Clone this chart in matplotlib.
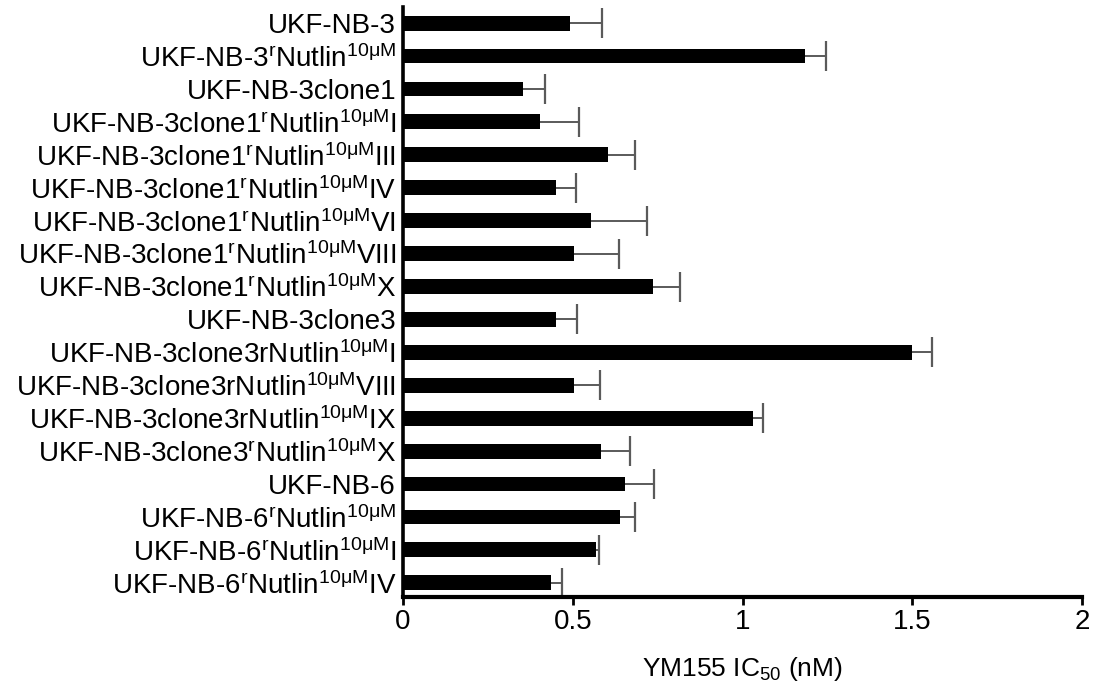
import matplotlib
matplotlib.use("Agg")
import matplotlib.pyplot as plt
import numpy as np

plt.rcParams["font.family"] = ["Liberation Sans", "DejaVu Sans"]
plt.rcParams["mathtext.fontset"] = "custom"
plt.rcParams["mathtext.rm"] = "Liberation Sans"
plt.rcParams["mathtext.it"] = "Liberation Sans"

SUP_R = r"$^{\mathregular{r}}$"
SUP_C = r"$^{\mathregular{10μM}}$"

# cell lines, top to bottom
cell_lines = [
    "UKF-NB-3",
    "UKF-NB-3" + SUP_R + "Nutlin" + SUP_C,
    "UKF-NB-3clone1",
    "UKF-NB-3clone1" + SUP_R + "Nutlin" + SUP_C + "I",
    "UKF-NB-3clone1" + SUP_R + "Nutlin" + SUP_C + "III",
    "UKF-NB-3clone1" + SUP_R + "Nutlin" + SUP_C + "IV",
    "UKF-NB-3clone1" + SUP_R + "Nutlin" + SUP_C + "VI",
    "UKF-NB-3clone1" + SUP_R + "Nutlin" + SUP_C + "VIII",
    "UKF-NB-3clone1" + SUP_R + "Nutlin" + SUP_C + "X",
    "UKF-NB-3clone3",
    "UKF-NB-3clone3rNutlin" + SUP_C + "I",
    "UKF-NB-3clone3rNutlin" + SUP_C + "VIII",
    "UKF-NB-3clone3rNutlin" + SUP_C + "IX",
    "UKF-NB-3clone3" + SUP_R + "Nutlin" + SUP_C + "X",
    "UKF-NB-6",
    "UKF-NB-6" + SUP_R + "Nutlin" + SUP_C,
    "UKF-NB-6" + SUP_R + "Nutlin" + SUP_C + "I",
    "UKF-NB-6" + SUP_R + "Nutlin" + SUP_C + "IV",
]

# YM155 IC50 (nM) and SD
ic50 = [0.491, 1.183, 0.353, 0.403, 0.603, 0.450, 0.553, 0.503, 0.735,
        0.450, 1.499, 0.503, 1.031, 0.583, 0.653, 0.639, 0.569, 0.436]
sd = [0.094, 0.063, 0.066, 0.115, 0.080, 0.060, 0.165, 0.134, 0.080,
      0.061, 0.060, 0.078, 0.030, 0.085, 0.085, 0.045, 0.009, 0.032]

x_ticks = [0, 0.5, 1, 1.5, 2]
x_tick_labels = ["0", "0.5", "1", "1.5", "2"]

fig = plt.figure(figsize=(10.97, 6.9), dpi=100)
ax = fig.add_axes([0.3674, 0.1348, 0.6189, 0.8551])

y = np.arange(len(cell_lines))
ax.barh(y, ic50, height=0.45, color="black", zorder=2)
eb = ax.errorbar(ic50, y, xerr=[np.zeros(len(sd)), sd], fmt="none",
                 ecolor="#5a5a5a", elinewidth=1.4, capsize=11, capthick=1.6,
                 zorder=1)
# only the outer cap, like the original
eb[1][0].set_visible(False)

ax.set_ylim(len(cell_lines) - 1 + 0.43, -0.49)
ax.set_xlim(0, 2)
ax.set_yticks(y)
ax.set_yticklabels(cell_lines, fontsize=20)
ax.set_xticks(x_ticks)
ax.set_xticklabels(x_tick_labels, fontsize=20)
ax.tick_params(axis="y", length=0, pad=5)
ax.tick_params(axis="x", length=6, width=2, pad=3)

ax.set_xlabel(r"YM155 IC$_{\mathregular{50}}$ (nM)", fontsize=19, labelpad=14)

for side in ["top", "right"]:
    ax.spines[side].set_visible(False)
ax.spines["left"].set_linewidth(2.6)
ax.spines["bottom"].set_linewidth(3)

fig.savefig("out.png", dpi=100)
